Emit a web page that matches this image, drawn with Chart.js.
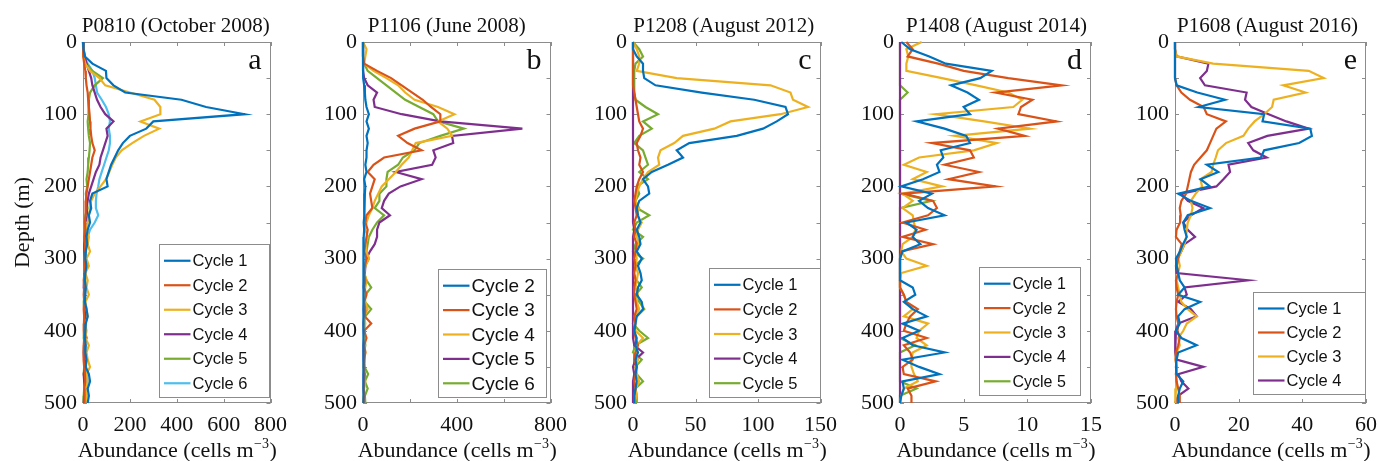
<!DOCTYPE html>
<html>
<head>
<meta charset="utf-8">
<title>Abundance profiles</title>
<script src="https://cdn.jsdelivr.net/npm/chart.js@4.4.1/dist/chart.umd.min.js"></script>
<style>
  html, body { margin: 0; padding: 0; background: #fff; }
  #wrap { position: relative; width: 1378px; height: 461px; overflow: hidden; }
  #wrap canvas { position: absolute; top: 0; }
</style>
</head>
<body>
<div id="wrap">
  <canvas id="chart-a" width="296" height="461" style="left:0px"></canvas>
  <canvas id="chart-b" width="296" height="461" style="left:280px"></canvas>
  <canvas id="chart-c" width="296" height="461" style="left:550px"></canvas>
  <canvas id="chart-d" width="296" height="461" style="left:817px"></canvas>
  <canvas id="chart-e" width="296" height="461" style="left:1092px"></canvas>
</div>
<script>
"use strict";

// depth of each sample (m), shared by every profile
const depths = [0,10,20,30,40,50,60,70,80,90,100,110,120,130,140,150,160,170,180,190,200,
  210,220,230,240,250,260,270,280,290,300,310,320,330,340,350,360,370,380,390,400,
  410,420,430,440,450,460,470,480,490,500];

// tick values
const depthTicks = [0,50,100,150,200,250,300,350,400,450,500];
const xTicksA = [0,200,400,600,800];
const xLabelsA = [0,200,400,600,800];
const xTicksB = [0,200,400,600,800];
const xLabelsB = [0,400,800];
const xTicksC = [0,50,100,150];
const xTicksD = [0,5,10,15];
const xTicksE = [0,20,40,60];

/* P0810 (October 2008) */
const labelsA = ["Cycle 1","Cycle 2","Cycle 3","Cycle 4","Cycle 5","Cycle 6"];
const a1 = [0,2,8,40,98,100,130,180,420,525, 690,300,270,200,170,150,135,120,110,100,
  105,40,30,35,25,30,20,15,18,12, 10,15,10,8,12,10,8,15,20,12, 10,8,12,10,15,12,25,30,20,25, 20];
const a2 = [0,0,2,5,10,12,15,20,22,25, 28,30,32,35,40,50,40,35,30,25,
  20,15,12,10,12,8,10,5,8,10, 5,8,5,3,5,3,5,3,5,4, 3,5,3,2,3,5,8,10,5,8, 5];
const a3 = [0,0,2,10,30,70,95,200,305,330, 330,245,325,260,210,165,140,125,112,98,
  75,50,35,30,25,20,15,25,20,30, 15,25,10,20,15,25,10,15,20,10, 15,10,25,15,20,30,15,20,10,15, 10];
const a4 = [0,3,8,15,25,35,40,50,60,75, 95,130,100,105,95,85,75,70,55,45,
  35,25,20,15,20,10,15,10,5,8, 5,10,8,5,3,8,5,10,12,5, 8,15,5,3,5,8,3,5,10,5, 3];
const a5 = [0,2,5,15,40,85,50,30,25,25, 22,20,22,25,30,28,25,22,20,15,
  18,12,15,20,10,8,5,10,8,5, 10,5,8,10,5,8,3,5,8,10, 5,3,8,5,10,5,3,8,5,3, 2];
const a6 = [0,0,3,20,40,50,55,60,80,98, 110,115,110,115,115,110,100,90,80,70,
  65,58,55,55,65,50,30,20,15,10, 12,8,10,5,8,5,10,15,10,5, 8,10,5,8,5,10,15,20,10,15, 10];

/* P1106 (June 2008) */
const labelsB = ["Cycle 2","Cycle 3","Cycle 4","Cycle 5","Cycle 6"];
const b2 = [0,0,0,0,0,3,5,8,10,15, 25,15,25,15,20,15,15,10,15,5,
  10,8,5,5,8,3,5,3,2,3, 2,3,2,3,2,1,2,3,2,1, 2,1,2,1,2,1,2,1,2,1, 1];
const b3 = [0,0,0,5,60,120,165,210,255,290, 330,330,220,150,190,250,90,45,20,50,
  40,30,35,40,15,10,20,15,10,5, 15,8,5,10,5,15,5,10,8,35, 5,15,5,10,5,3,8,5,3,5, 2];
const b4 = [0,15,10,5,45,100,150,180,220,320, 390,320,360,380,225,210,195,165,140,110,
  80,65,50,40,25,15,10,20,10,15, 25,10,5,15,10,5,10,20,5,10, 5,8,5,10,5,3,5,10,5,3, 2];
const b5 = [0,0,0,0,0,5,20,60,45,50, 165,330,680,380,385,300,310,295,140,250,
  160,110,90,80,115,70,60,60,50,30, 15,10,8,5,3,8,5,3,5,2, 3,5,2,3,2,5,3,2,3,5, 2];
const b6 = [0,0,0,5,20,60,100,140,180,240, 300,320,430,330,240,220,170,150,105,100,
  100,70,70,50,90,60,40,25,20,15, 25,10,5,15,35,10,8,35,10,5, 8,5,10,5,8,5,22,8,20,8, 10];

/* P1208 (August 2012) */
const labelsC = ["Cycle 1","Cycle 2","Cycle 3","Cycle 4","Cycle 5"];
const c1 = [0,0,3,8,8,9,18,55,97,122, 124,115,104,83,45,35,40,28,15,8,
  12,13,5,3,4,6,3,5,6,3, 7,4,6,7,4,3,7,8,3,2, 1,3,2,4,2,3,2,3,2,1, 1];
const c2 = [0,0,0,0,0,0,0,1,2,3, 4,5,8,6,3,4,6,5,8,5,
  3,2,1,2,3,1,2,1,3,2, 1,2,1,2,1,1,2,3,1,2, 1,2,4,2,1,3,2,1,2,1, 1];
const c3 = [0,3,5,5,3,35,110,126,128,140, 118,78,65,40,33,22,20,21,12,8,
  5,3,2,5,3,7,4,3,5,2, 3,2,4,3,2,4,3,5,2,1, 2,8,3,2,4,2,3,5,2,3, 1];
const c4 = [0,0,0,0,0,0,0,0,0,0, 0,0,0,0,0,0,0,0,0,0,
  0,0,0,0,0,0,1,0,0,0, 0,0,0,0,0,0,0,0,0,0, 0,0,1,8,2,0,1,0,0,0, 0];
const c5 = [0,5,8,2,1,1,1,1,2,10, 20,8,15,5,1,8,10,12,5,12,
  3,5,2,3,13,3,0,8,2,0, 8,1,0,3,7,2,5,9,3,0, 5,12,2,0,7,2,3,8,2,3, 3];

/* P1408 (August 2014) */
const labelsD = ["Cycle 1","Cycle 2","Cycle 3","Cycle 4","Cycle 5"];
const d1 = [0.1,0.8,2.3,3.6,7.2,6.3,4.0,5.3,6.2,5.0, 5.5,1.3,3.5,5.2,5.5,3.2,3.4,2.9,3.1,1.8,
  0.1,2.5,1.5,2.2,3.5,0.5,1.3,1.0,1.6,0.2, 0,0,0,0,1.0,1.2,0.3,1.0,2.1,0.2,
  1.5,0.2,1.0,3.5,0.2,1.5,3.1,0.2,0.3,0.1, 0];
const d2 = [0.5,1.0,0.6,3.0,5.0,8.5,12.7,7.5,10.4,9.5, 9.3,12.3,7.7,9.8,2.5,5.5,5.8,3.5,6.2,3.8,
  7.5,0.3,2.6,2.9,2.2,0.2,2.0,0.2,2.6,0.1, 0,0,0,0,0,0.3,0.5,1.4,0.8,0.5,
  0.3,2.1,0.3,0.8,1.0,0.2,0.3,2.8,0.6,0.9, 0.9];
const d3 = [1.7,0.5,0.65,0.5,0.5,3.3,6.0,8.5,9.6,8.9, 2.8,6.6,10.2,4.3,7.6,5.8,1.5,0.3,2.1,1.0,
  3.3,0.2,1.0,0.2,1.0,1.1,1.2,1.0,0.2,0.1, 0.5,2.1,0.1,0,0,0.3,0.5,1.0,0.3,2.2,
  1.5,1.3,2.1,1.0,0.9,0.9,1.1,1.4,0.3,0.1, 0];
const d4 = [0,0,0,0,0,0,0,0,0,0, 0,0,0,0,0,0,0,0,0,0,
  0,0,0,0,0,0,0,0,0,0, 0,0,0,0,0,0,0,0,0,0, 0,0,0,0,0,0,0,0,0,0, 0];
const d5 = [0,0,0,0,0,0,0,0.6,0,0, 0,0,0,0,0,0,0,0,0,0,
  0,0,2.5,0,0,0,0,0,0,0, 0,0,0,0,0,0,0,0,0,0, 0,0,1.2,0,0,0,0,0,1.3,0, 0];

/* P1608 (August 2016) */
const labelsE = ["Cycle 1","Cycle 2","Cycle 3","Cycle 4"];
const e1 = [0,0,0,0,0,0,0.5,7,15.7,7.5, 28,27.5,42.5,43,39,28,27,10,13.6,8,
  11,1,5,11,4,2.6,3,3.7,2.5,1.6, 0.3,0.5,1,1.5,3,1,7.9,3,1,1.5, 0.3,2,6.8,1,0.5,0.3,0.5,2.6,1.5,1, 1];
const e2 = [0,0,0,0,0,0,0.5,2,4.7,9, 10,16,13,12,11,10,8,6,5,4.5,
  4,3.5,2,1.5,1.8,1.6,0.5,0.3,2.1,1.5, 1,0.5,1,0.3,0.5,1,0.5,0.3,0.5,1, 0.8,1.5,1,0.3,0.2,0.5,0.3,0.5,1,1.5, 1.5];
const e3 = [0,0,0.5,12,42,46.7,34,41,31,30.5, 28,25,23,21.5,16,13.5,12.8,12,11.5,8,
  8.5,6.5,5,5.5,5,4,3.7,3.5,3,2, 1,1.5,1,0.5,1,1.5,2,4,6.8,3.7, 2.6,1,1.5,0.5,0.2,0.5,0.3,0.5,0.3,0.2, 0];
const e4 = [0,0,0.5,10.5,10,7.9,9.4,22.5,22,24, 29.4,35,42,29,23,24.6,28.8,16.8,17.3,15.2,
  13,2,4,8.9,5,2.6,4,6.3,3,2, 0.8,0.3,0.5,23,3,3.7,1,5,6.8,1, 0.3,0.2,0,0,0.5,8.9,1,2,4.2,1, 0];

// MATLAB default line colours
const COLORS = ["#0072BD","#D95319","#EDB120","#7E2F8E","#77AC30","#4DBEEE"];
const AXIS_GREY = "#8c8c8c";
const SERIF = '"Liberation Serif", "DejaVu Serif", serif';
const SANS = '"Liberation Sans", Arial, sans-serif';

/* draws the MATLAB style box, inside ticks, title, panel letter and legend */
const panelDecor = {
  id: "panelDecor",
  beforeDatasetsDraw(chart, args, opts) {
    const ctx = chart.ctx;
    const ca = chart.chartArea;
    const x = chart.scales.x, y = chart.scales.y;
    const tl = 4;
    ctx.save();
    ctx.strokeStyle = AXIS_GREY;
    ctx.lineWidth = 1;
    ctx.strokeRect(Math.round(ca.left) + 0.5, Math.round(ca.top) + 0.5,
      Math.round(ca.width) - 1, Math.round(ca.height) - 1);
    ctx.beginPath();
    opts.xTicks.forEach(function (v) {
      const px = Math.round(x.getPixelForValue(v)) + 0.5;
      ctx.moveTo(px, ca.bottom); ctx.lineTo(px, ca.bottom - tl);
      ctx.moveTo(px, ca.top); ctx.lineTo(px, ca.top + tl);
    });
    depthTicks.forEach(function (v) {
      const py = Math.round(y.getPixelForValue(v)) + 0.5;
      ctx.moveTo(ca.left, py); ctx.lineTo(ca.left + tl, py);
      ctx.moveTo(ca.right, py); ctx.lineTo(ca.right - tl, py);
    });
    ctx.stroke();
    ctx.restore();
  },
  afterDatasetsDraw(chart, args, opts) {
    const ctx = chart.ctx;
    const ca = chart.chartArea;
    const mid = (ca.left + ca.right) / 2;
    ctx.save();
    ctx.fillStyle = "#111";

    // panel title
    ctx.font = "21px " + SERIF;
    ctx.textAlign = "center";
    ctx.textBaseline = "middle";
    ctx.fillText(opts.title, mid + opts.titleDx, 26);

    // panel letter
    ctx.font = "30px " + SERIF;
    ctx.textAlign = "right";
    ctx.textBaseline = "alphabetic";
    ctx.fillText(opts.letter, ca.right - 9, ca.top + 27);

    // x axis title with superscript
    const main = "Abundance (cells m", sup = "\u22123", tail = ")";
    ctx.font = "22px " + SERIF;
    const w1 = ctx.measureText(main).width;
    const w3 = ctx.measureText(tail).width;
    ctx.font = "14px " + SERIF;
    const w2 = ctx.measureText(sup).width;
    let tx = mid - (w1 + w2 + w3) / 2;
    const ty = 457;
    ctx.textAlign = "left";
    ctx.font = "22px " + SERIF;
    ctx.fillText(main, tx, ty);
    tx += w1;
    ctx.font = "14px " + SERIF;
    ctx.fillText(sup, tx + 0.5, ty - 9);
    tx += w2 + 1;
    ctx.font = "22px " + SERIF;
    ctx.fillText(tail, tx, ty);

    // legend inside the plot, bottom right
    const lg = opts.legend;
    const items = chart.data.datasets;
    const bx = Math.round(ca.right - lg.right - lg.width) + 0.5;
    const by = Math.round(ca.bottom - lg.bottom - lg.height) + 0.5;
    ctx.fillStyle = "#fff";
    ctx.fillRect(bx, by, lg.width, lg.height);
    ctx.strokeStyle = AXIS_GREY;
    ctx.lineWidth = 1;
    ctx.strokeRect(bx, by, lg.width, lg.height);
    const rowH = (lg.height - 6) / items.length;
    ctx.font = lg.size + "px " + SANS;
    ctx.textBaseline = "middle";
    items.forEach(function (ds, i) {
      const cy = by + 4 + rowH * (i + 0.5);
      ctx.strokeStyle = ds.borderColor;
      ctx.lineWidth = 2.2;
      ctx.beginPath();
      ctx.moveTo(bx + 4.5, cy);
      ctx.lineTo(bx + 31, cy);
      ctx.stroke();
      ctx.fillStyle = "#111";
      ctx.fillText(ds.label, bx + 33, cy + 1);
    });
    ctx.restore();
  }
};

function makePanel(canvasId, cfg) {
  const datasets = cfg.series.map(function (vals, i) {
    return {
      label: cfg.labels[i],
      data: vals.map(function (v, k) { return { x: v, y: depths[k] }; }),
      borderColor: COLORS[i],
      backgroundColor: COLORS[i],
      borderWidth: 2.2,
      pointRadius: 0,
      fill: false,
      tension: 0,
      clip: false
    };
  });

  return new Chart(document.getElementById(canvasId), {
    type: "line",
    data: { datasets: datasets },
    options: {
      responsive: false,
      animation: false,
      indexAxis: "y",
      layout: { padding: { left: 0, right: 22, top: 42, bottom: 0 } },
      plugins: {
        legend: { display: false },
        tooltip: { enabled: false },
        panelDecor: {
          title: cfg.title, titleDx: cfg.titleDx, letter: cfg.letter,
          xTicks: cfg.xTicks, legend: cfg.legend
        }
      },
      scales: {
        x: {
          type: "linear",
          min: 0,
          max: cfg.xTicks[cfg.xTicks.length - 1],
          grid: { display: false, drawTicks: false },
          border: { display: false },
          ticks: {
            stepSize: cfg.xTicks[1] - cfg.xTicks[0],
            autoSkip: false,
            maxRotation: 0,
            padding: 9,
            color: "#111",
            font: { family: SERIF, size: 22 },
            callback: function (v) { return cfg.xLabels.indexOf(v) >= 0 ? String(v) : ""; }
          },
          afterFit: function (s) { s.height = 58; }
        },
        y: {
          type: "linear",
          reverse: true,
          min: 0,
          max: 500,
          grid: { display: false, drawTicks: false },
          border: { display: false },
          ticks: { stepSize: 100, padding: 6, color: "#111", font: { family: SERIF, size: 22 } },
          title: {
            display: !!cfg.yTitle,
            text: cfg.yTitle || "",
            color: "#111",
            font: { family: SERIF, size: 22 },
            padding: { top: 10, bottom: 0 }
          },
          afterFit: function (s) { s.width = 83; }
        }
      }
    },
    plugins: [panelDecor]
  });
}

makePanel("chart-a", {
  title: "P0810 (October 2008)", titleDx: -1, letter: "a", yTitle: "Depth (m)",
  series: [a1, a2, a3, a4, a5, a6], labels: labelsA,
  xTicks: xTicksA, xLabels: xLabelsA,
  legend: { right: 2, bottom: 6, width: 110, height: 153, size: 16.5 }
});
makePanel("chart-b", {
  title: "P1106 (June 2008)", titleDx: -10, letter: "b",
  series: [b2, b3, b4, b5, b6], labels: labelsB,
  xTicks: xTicksB, xLabels: xLabelsB,
  legend: { right: 5, bottom: 6, width: 108, height: 128, size: 19 }
});
makePanel("chart-c", {
  title: "P1208 (August 2012)", titleDx: -3, letter: "c",
  series: [c1, c2, c3, c4, c5], labels: labelsC,
  xTicks: xTicksC, xLabels: xTicksC,
  legend: { right: 1, bottom: 6, width: 111, height: 129, size: 16.5 }
});
makePanel("chart-d", {
  title: "P1408 (August 2014)", titleDx: 1, letter: "d",
  series: [d1, d2, d3, d4, d5], labels: labelsD,
  xTicks: xTicksD, xLabels: xTicksD,
  legend: { right: 11, bottom: 8, width: 101, height: 128, size: 16 }
});
makePanel("chart-e", {
  title: "P1608 (August 2016)", titleDx: -3, letter: "e",
  series: [e1, e2, e3, e4], labels: labelsE,
  xTicks: xTicksE, xLabels: xTicksE,
  legend: { right: 1, bottom: 9, width: 112, height: 102, size: 16.5 }
});
</script>
</body>
</html>
